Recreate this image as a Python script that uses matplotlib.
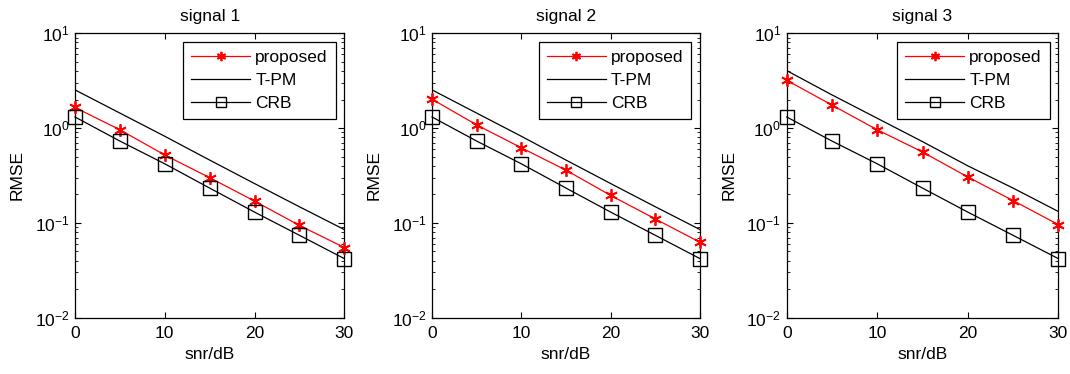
import matplotlib
matplotlib.use("Agg")
import matplotlib.pyplot as plt
from matplotlib.ticker import LogLocator, NullFormatter

plt.rcParams['font.family'] = ['Liberation Sans', 'DejaVu Sans']

snr = [0, 5, 10, 15, 20, 25, 30]
titles = ["signal 1", "signal 2", "signal 3"]

proposed_1 = [1.65, 0.96, 0.52, 0.30, 0.17, 0.094, 0.055]
tpm_1 = [2.53, 1.44, 0.82, 0.46, 0.26, 0.148, 0.085]
crb_1 = [1.31, 0.73, 0.42, 0.233, 0.13, 0.074, 0.042]

proposed_2 = [2.02, 1.08, 0.62, 0.36, 0.195, 0.11, 0.0625]
tpm_2 = [2.53, 1.44, 0.82, 0.46, 0.26, 0.148, 0.085]
crb_2 = [1.31, 0.73, 0.42, 0.233, 0.13, 0.074, 0.042]

proposed_3 = [3.2, 1.75, 0.96, 0.56, 0.305, 0.172, 0.096]
tpm_3 = [4.04, 2.24, 1.27, 0.72, 0.40, 0.233, 0.132]
crb_3 = [1.31, 0.73, 0.42, 0.233, 0.13, 0.074, 0.042]

series = [(proposed_1, tpm_1, crb_1), (proposed_2, tpm_2, crb_2), (proposed_3, tpm_3, crb_3)]

W, H = 1070, 374
fig = plt.figure(figsize=(W / 100, H / 100), dpi=100)

panels = [(75, 344.3), (432, 700), (786.7, 1058.3)]
top_px, bot_px = 33.3, 317.7
FS = 12.5

for (x0, x1), title, (p, t, c) in zip(panels, titles, series):
    ax = fig.add_axes([x0 / W, (H - bot_px) / H, (x1 - x0) / W, (bot_px - top_px) / H])
    ax.plot(snr, p, color='red', lw=0.9, marker=(6, 2, 0), ms=9, mew=1.3, label='proposed', clip_on=False, zorder=3)
    ax.plot(snr, t, color='black', lw=0.9, label='T-PM', zorder=3)
    ax.plot(snr, c, color='black', lw=0.9, marker='s', ms=10, mfc='none', mew=1.0, label='CRB', clip_on=False, zorder=3)
    ax.set_yscale('log')
    ax.set_ylim(1e-2, 1e1)
    ax.set_xlim(0, 30)
    ax.set_xticks([0, 10, 20, 30])
    ax.yaxis.set_major_locator(LogLocator(base=10, numticks=10))
    ax.yaxis.set_minor_locator(LogLocator(base=10, subs=range(2, 10), numticks=20))
    ax.yaxis.set_minor_formatter(NullFormatter())
    ax.tick_params(which='both', direction='in', top=True, right=True, labelsize=FS, colors='black')
    ax.tick_params(which='major', length=4, width=0.8)
    ax.tick_params(which='minor', length=2.5, width=0.6)
    ax.tick_params(axis='x', pad=6)
    ax.tick_params(axis='y', pad=4)
    for s in ax.spines.values():
        s.set_linewidth(0.9)
    ax.set_title(title, fontsize=FS, pad=9)
    ax.set_xlabel('snr/dB', fontsize=FS, labelpad=4)
    ax.set_ylabel('RMSE', fontsize=FS, labelpad=7)
    leg = ax.legend(loc='upper right', fontsize=FS, frameon=True, fancybox=False,
                    edgecolor='black', framealpha=1, handlelength=3.4, handletextpad=0.3,
                    borderpad=0.45, labelspacing=0.45, borderaxespad=0.5, markerscale=0.75)
    leg.get_frame().set_linewidth(0.9)

fig.savefig('out.png', dpi=100)
